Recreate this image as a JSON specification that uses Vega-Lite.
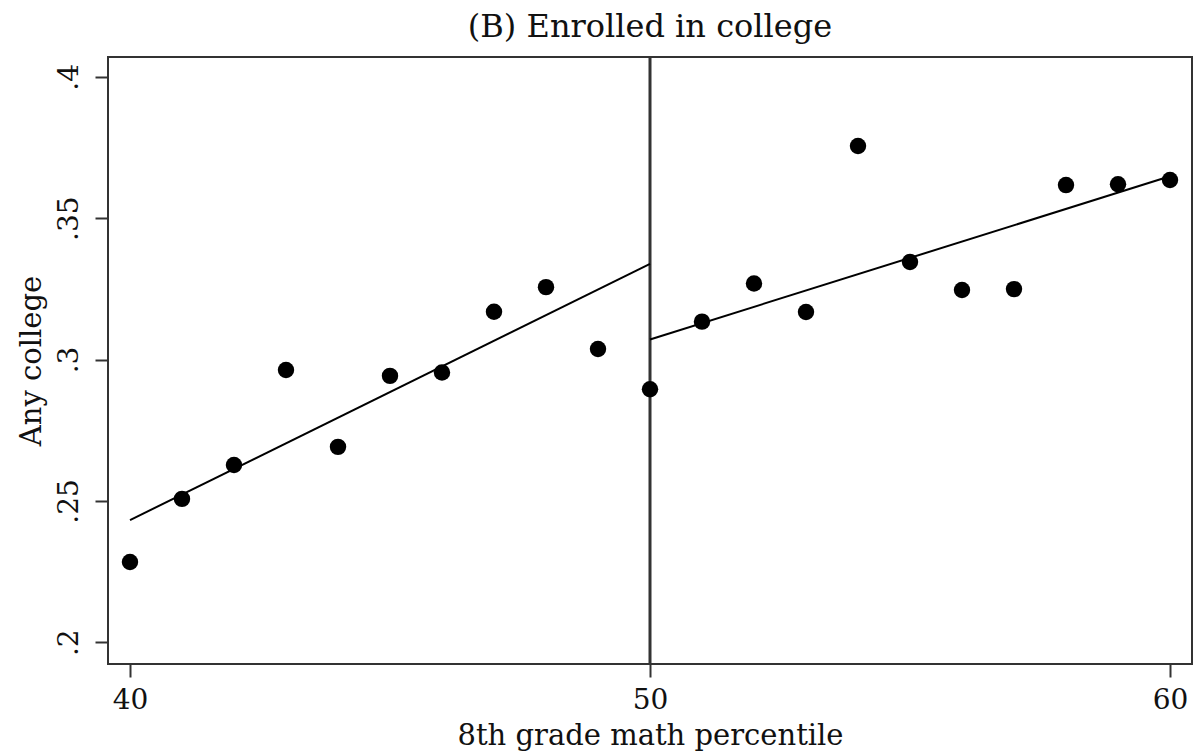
{
  "$schema": "https://vega.github.io/schema/vega-lite/v6.json",
  "autosize": {"type": "none"},
  "padding": {"left": 108, "top": 57, "right": 4, "bottom": 91},
  "width": 1084,
  "height": 607,
  "background": "white",
  "config": {
    "view": {"stroke": "#333333", "strokeWidth": 2},
    "font": "DejaVu Serif"
  },
  "title": {
    "text": "(B) Enrolled in college",
    "font": "DejaVu Serif",
    "fontSize": 32,
    "fontWeight": "normal",
    "color": "#111111",
    "anchor": "middle",
    "frame": "group",
    "baseline": "alphabetic",
    "offset": -13
  },
  "datasets": {
    "bins": [
      {"pct": 40, "any_college": 0.2284},
      {"pct": 41, "any_college": 0.2507},
      {"pct": 42, "any_college": 0.2627},
      {"pct": 43, "any_college": 0.2963},
      {"pct": 44, "any_college": 0.2691},
      {"pct": 45, "any_college": 0.2942},
      {"pct": 46, "any_college": 0.2954},
      {"pct": 47, "any_college": 0.3169},
      {"pct": 48, "any_college": 0.3256},
      {"pct": 49, "any_college": 0.3037},
      {"pct": 50, "any_college": 0.2895},
      {"pct": 51, "any_college": 0.3134},
      {"pct": 52, "any_college": 0.3269},
      {"pct": 53, "any_college": 0.3168},
      {"pct": 54, "any_college": 0.3755},
      {"pct": 55, "any_college": 0.3345},
      {"pct": 56, "any_college": 0.3246},
      {"pct": 57, "any_college": 0.3249},
      {"pct": 58, "any_college": 0.3617},
      {"pct": 59, "any_college": 0.3620},
      {"pct": 60, "any_college": 0.3635}
    ],
    "fit": [
      {"side": "below", "pct": 40, "fitted": 0.2432},
      {"side": "below", "pct": 50, "fitted": 0.3338},
      {"side": "above", "pct": 50, "fitted": 0.3071},
      {"side": "above", "pct": 60, "fitted": 0.3648}
    ],
    "cutoff": [{"pct": 50}]
  },
  "encoding": {
    "x": {
      "field": "pct",
      "type": "quantitative",
      "scale": {"domain": [39.577, 60.423], "nice": false, "zero": false},
      "axis": {
        "title": "8th grade math percentile",
        "values": [40, 50, 60],
        "grid": false,
        "domain": false,
        "tickSize": 13,
        "tickWidth": 2,
        "tickColor": "#333333",
        "labelFont": "DejaVu Serif",
        "labelFontSize": 28,
        "labelColor": "#111111",
        "labelBaseline": "alphabetic",
        "labelPadding": 31,
        "labelFlush": false,
        "titleFont": "DejaVu Serif",
        "titleFontSize": 29,
        "titleFontWeight": "normal",
        "titleColor": "#111111",
        "titleBaseline": "alphabetic",
        "titleAnchor": "middle",
        "titleX": 542,
        "titleY": 80
      }
    },
    "y": {
      "field": "any_college",
      "type": "quantitative",
      "scale": {"domain": [0.1923, 0.407], "nice": false, "zero": false},
      "axis": {
        "title": "Any college",
        "values": [0.2, 0.25, 0.3, 0.35, 0.4],
        "labelExpr": "replace(format(datum.value, '.2~f'), /^0/, '')",
        "grid": false,
        "domain": false,
        "tickSize": 13,
        "tickWidth": 2,
        "tickColor": "#333333",
        "labelFont": "DejaVu Serif",
        "labelFontSize": 28,
        "labelColor": "#111111",
        "labelAngle": -90,
        "labelAlign": "center",
        "labelBaseline": "alphabetic",
        "labelPadding": 18,
        "labelFlush": false,
        "titleFont": "DejaVu Serif",
        "titleFontSize": 29,
        "titleFontWeight": "normal",
        "titleColor": "#111111",
        "titleAngle": -90,
        "titleAlign": "center",
        "titleBaseline": "alphabetic",
        "titleX": -68,
        "titleY": 303.5
      }
    }
  },
  "layer": [
    {
      "data": {"name": "cutoff"},
      "mark": {"type": "rule", "color": "#333333", "strokeWidth": 3},
      "encoding": {"x": {"field": "pct", "type": "quantitative"}, "y": null}
    },
    {
      "data": {"name": "fit"},
      "mark": {"type": "line", "color": "#000000", "strokeWidth": 2},
      "encoding": {
        "y": {"field": "fitted", "type": "quantitative"},
        "detail": {"field": "side", "type": "nominal"}
      }
    },
    {
      "data": {"name": "bins"},
      "mark": {"type": "point", "filled": true, "color": "#000000", "opacity": 1, "size": 270}
    }
  ]
}
